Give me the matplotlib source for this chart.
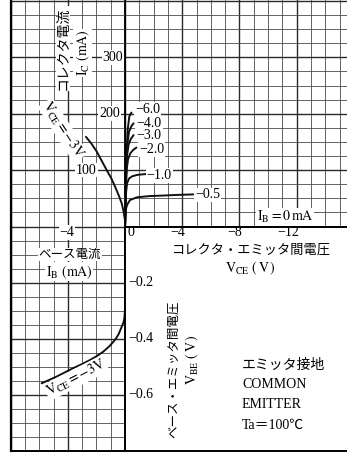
import numpy as np
import matplotlib.pyplot as plt
from matplotlib.ticker import MultipleLocator

plt.rcParams['font.family'] = ['Liberation Serif', 'Noto Sans CJK JP']
plt.rcParams['mathtext.fontset'] = 'stix'

# collector characteristics Ic(mA) vs VCE(V), one curve per base current IB(mA)
ib_labels = ['−6.0', '−4.0', '−3.0', '−2.0', '−1.0', '−0.5']
vce_60 = [0, -0.08, -0.18, -0.3, -0.45]
ic_60 = [0, 110, 170, 195, 202]
vce_40 = [0, -0.07, -0.16, -0.28, -0.45, -0.6]
ic_40 = [0, 90, 145, 168, 178, 183]
vce_30 = [0, -0.06, -0.14, -0.25, -0.4, -0.6]
ic_30 = [0, 75, 125, 145, 155, 162]
vce_20 = [0, -0.05, -0.12, -0.22, -0.38, -0.58, -0.8]
ic_20 = [0, 60, 102, 120, 130, 136, 140]
vce_10 = [0, -0.03, -0.08, -0.15, -0.28, -0.5, -0.85, -1.45]
ic_10 = [0, 30, 62, 77, 85, 89, 91.5, 93]
vce_05 = [0, -0.02, -0.06, -0.14, -0.35, -0.84, -1.75, -2.8, -3.5, -4.9]
ic_05 = [0, 15, 30, 38, 47, 51.8, 54, 55, 55.9, 57]
vce_00 = [0, -16]
ic_00 = [0, 0]

# Ic vs IB at VCE = -3V
ib_ic = [0, 0, -0.04, -0.12, -0.23, -0.42, -0.70, -0.97, -1.28, -1.62, -1.98, -2.35, -2.73]
ic_ib = [0, 11, 17, 29, 41, 54, 71, 86, 100, 116, 133, 147, 159]

# VBE vs IB at VCE = -3V
ib_vbe = [0, 0, -0.035, -0.1, -0.23, -0.45, -0.70, -1.08, -1.52, -1.97, -2.45, -3.03,
          -3.62, -4.2, -4.78, -5.3, -5.83]
vbe_ib = [0, -0.295, -0.325, -0.342, -0.358, -0.385, -0.405, -0.427, -0.447, -0.463,
          -0.477, -0.492, -0.506, -0.521, -0.536, -0.548, -0.56]

vce_ticks = [-4, -8, -12]
ic_ticks = [300, 200, 100]
vbe_ticks = [-0.2, -0.4, -0.6]

W, H = 347, 454
fig = plt.figure(figsize=(W / 100, H / 100), dpi=100)
fig.patch.set_facecolor('white')


def px_axes(x0, y0, x1, y1):
    ax = fig.add_axes([x0 / W, 1 - y1 / H, (x1 - x0) / W, (y1 - y0) / H])
    ax.set_facecolor('none')
    for s in ax.spines.values():
        s.set_visible(False)
    ax.tick_params(which='both', length=0, labelbottom=False, labelleft=False)
    return ax


def graph_paper(ax, xmaj, xmin, ymaj, ymin):
    ax.xaxis.set_major_locator(MultipleLocator(xmaj))
    ax.xaxis.set_minor_locator(MultipleLocator(xmin))
    ax.yaxis.set_major_locator(MultipleLocator(ymaj))
    ax.yaxis.set_minor_locator(MultipleLocator(ymin))
    ax.grid(which='major', color='#2a2a2a', lw=1.0)
    ax.grid(which='minor', color='#4a4a4a', lw=0.6)
    ax.set_axisbelow(True)


ox, oy = 125, 226.5
bbox = dict(facecolor='white', edgecolor='none', pad=0.6)
lk = dict(color='#111111', lw=1.4, solid_capstyle='round')
vce3 = r'$\mathrm{V_{CE}=-3V}$'

# lower right (blank) quadrant
ax_br = px_axes(ox, oy, W, 450.5)
ax_br.set_xlim(0, (W - ox) / 14.3)
ax_br.set_ylim(-0.8, 0)
ax_br.spines['bottom'].set_visible(True)
ax_br.spines['bottom'].set_linewidth(1.4)

# upper right: Ic - VCE
ax_tr = px_axes(ox, 0, W, oy)
ax_tr.set_xlim(0, -(W - ox) / 14.3)
ax_tr.set_ylim(0, oy / 14.1 * 25)
graph_paper(ax_tr, 4, 1, 100, 25)
for s in ['left', 'bottom']:
    ax_tr.spines[s].set_visible(True)
    ax_tr.spines[s].set_linewidth(1.4)
curves = [(vce_60, ic_60), (vce_40, ic_40), (vce_30, ic_30),
          (vce_20, ic_20), (vce_10, ic_10), (vce_05, ic_05)]
for v, i in curves:
    ax_tr.plot(v, i, **lk)
ax_tr.plot(vce_00, ic_00, **lk)
lab_pos = [(-0.7, 208), (-0.82, 183.5), (-0.77, 162), (-1.0, 137), (-1.52, 91), (-4.9, 56)]
for (x, y), t in zip(lab_pos, ib_labels):
    ax_tr.text(x, y, t, fontsize=10, ha='left', va='center', bbox=bbox)
ax_tr.text(-9.2, 17, r'$\mathrm{I_B=0\,mA}$', fontsize=10, ha='left', va='center', bbox=bbox)
ax_tr.text(-0.2, -11.5, '0', fontsize=10, ha='left', va='center')
for t in vce_ticks:
    ax_tr.text(t - 0.2, -11.5, '−%d' % abs(t), fontsize=10, ha='right', va='center')

# upper left: Ic - IB
ax_tl = px_axes(10.6, 0, ox, oy)
ax_tl.set_xlim(-8, 0)
ax_tl.set_ylim(0, oy / 14.1 * 25)
graph_paper(ax_tl, 4, 1, 100, 25)
ax_tl.spines['left'].set_visible(True)
ax_tl.spines['left'].set_linewidth(1.6)
ax_tl.plot(ib_ic, ic_ib, **lk)
for t, x in zip(ic_ticks, [-0.14, -0.35, -1.96]):
    ax_tl.text(x, t, str(t), fontsize=10, ha='right', va='center', bbox=bbox)
ax_tl.text(-4.34, 316, 'コレクタ電流', fontsize=10, rotation=90,
           ha='center', va='center', bbox=bbox)
ax_tl.text(-2.94, 308, r'$\mathrm{I_C\ (mA)}$', fontsize=10, rotation=90,
           ha='center', va='center', bbox=bbox)
ax_tl.text(-4.34, 171, vce3, fontsize=10, rotation=-57,
           ha='center', va='center', bbox=bbox)

# lower left: VBE - IB
ax_bl = px_axes(10.6, oy, ox, 450.5)
ax_bl.set_xlim(-8, 0)
ax_bl.set_ylim(-0.8, 0)
graph_paper(ax_bl, 4, 1, 0.2, 0.05)
for s in ['left', 'bottom', 'right']:
    ax_bl.spines[s].set_visible(True)
    ax_bl.spines[s].set_linewidth(1.4)
ax_bl.spines['left'].set_linewidth(1.6)
ax_bl.plot(ib_vbe, vbe_ib, **lk)
ax_bl.text(-4.06, -0.022, '−4', fontsize=10, ha='center', va='center', bbox=bbox)
ax_bl.text(-3.85, -0.1, 'ベース電流', fontsize=9, ha='center', va='center', bbox=bbox)
ax_bl.text(-3.9, -0.162, r'$\mathrm{I_B\ (mA)}$', fontsize=10, ha='center', va='center', bbox=bbox)
ax_bl.text(-3.43, -0.541, vce3, fontsize=10, rotation=27,
           ha='center', va='center', bbox=bbox)

# texts in the blank quadrant
for t in vbe_ticks:
    ax_br.text(0.2, t, '−%.1f' % abs(t), fontsize=10, ha='left', va='center')
ax_br.text(8.81, -0.084, 'コレクタ・エミッタ間電圧', fontsize=9.5, ha='center', va='center')
ax_br.text(8.74, -0.148, r'$\mathrm{V_{CE}\ (\,V\,)}$', fontsize=10, ha='center', va='center')
ax_br.text(3.45, -0.51, 'ベース・エミッタ間電圧', fontsize=9, rotation=90,
           ha='center', va='center')
ax_br.text(4.72, -0.477, r'$\mathrm{V_{BE}\ (\,V\,)}$', fontsize=10, rotation=90,
           ha='center', va='center')
for y, t in zip([-0.495, -0.566, -0.6375, -0.709],
                ['エミッタ接地', 'COMMON', 'EMITTER', 'Ta＝100℃']):
    ax_br.text(8.18, y, t, fontsize=10, ha='left', va='center')

fig.savefig('out.png', dpi=100)
